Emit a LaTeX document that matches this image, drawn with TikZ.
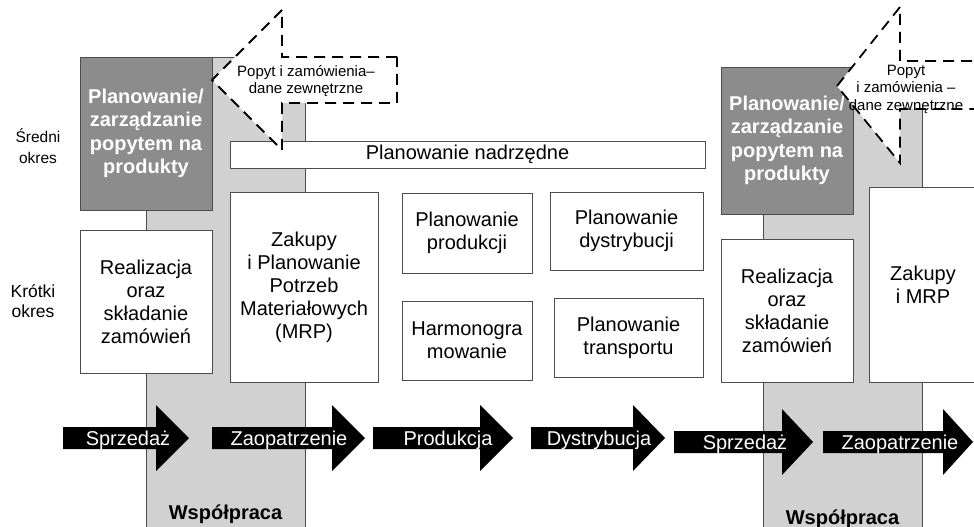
\documentclass[tikz,border=0pt]{standalone}
\usepackage{fontspec}
\setmainfont{Liberation Sans}
\definecolor{bandgray}{gray}{0.82}
\definecolor{boxgray}{gray}{0.55}
\definecolor{edgegray}{gray}{0.3}
\tikzset{
  box/.style={draw=edgegray, fill=white, line width=0.9pt, align=center, inner sep=0pt, font=\fontsize{20}{23}\selectfont},
  darkbox/.style={box, fill=boxgray, text=white, font=\bfseries\fontsize{20}{23.5}\selectfont},
  band/.style={draw=edgegray, fill=bandgray, line width=0.9pt},
  demand/.style={draw=black, fill=white, line width=1.8pt, dash pattern=on 11pt off 7pt},
  demandtext/.style={align=center, inner sep=0pt, font=\fontsize{15}{17.5}\selectfont},
  flowtext/.style={text=white, anchor=base, inner sep=0pt, font=\fontsize{20}{23}\selectfont},
  bandtext/.style={anchor=base, inner sep=0pt, font=\bfseries\fontsize{20}{23}\selectfont},
}
\begin{document}
\begin{tikzpicture}[x=1pt, y=-1pt]
    \useasboundingbox (0,0) rectangle (974,527);
    \clip (0,0) rectangle (974,527);
    \fill[white] (0,0) rectangle (974,527);

    % Collaboration bands
    \filldraw[band] (146,57) rectangle (305,540);
    \filldraw[band] (763,67) rectangle (922,540);

    % Time horizons
    \node[align=center, font=\fontsize{15.5}{21}\selectfont] (midterm) at (38,146) {Średni\\okres};
    \node[align=center, font=\fontsize{17.5}{20}\selectfont] (shortterm) at (33,301) {Krótki\\okres};

    % Left block
    \node[darkbox, minimum width=132pt, minimum height=153pt] (demandL) at (146,133.5) {Planowanie/\\zarządzanie\\popytem na\\produkty};
    \node[box, minimum width=132pt, minimum height=143pt] (ordersL) at (146,301.5) {Realizacja\\oraz\\składanie\\zamówień};
    \node[box, minimum width=148pt, minimum height=190pt] (mrpL) at (304,287) {Zakupy\\i Planowanie\\Potrzeb\\Materiałowych\\(MRP)};

    % Middle block
    \node[box, minimum width=475pt, minimum height=27pt] (master) at (467.5,154.5) {Planowanie nadrzędne};
    \node[box, minimum width=130pt, minimum height=80pt] (prodplan) at (467,233) {Planowanie\\produkcji};
    \node[box, minimum width=153pt, minimum height=78pt] (distplan) at (626.5,231) {Planowanie\\dystrybucji};
    \node[box, minimum width=130pt, minimum height=79pt] (schedule) at (467,340.5) {Harmonogra\\mowanie};
    \node[box, minimum width=149pt, minimum height=79pt] (transplan) at (628.5,337.5) {Planowanie\\transportu};

    % Right block
    \node[darkbox, minimum width=132pt, minimum height=147pt] (demandR) at (787,140.5) {Planowanie/\\zarządzanie\\popytem na\\produkty};
    \node[box, minimum width=132pt, minimum height=143pt] (ordersR) at (787,310.5) {Realizacja\\oraz\\składanie\\zamówień};
    \node[box, minimum width=108pt, minimum height=195pt] (mrpR) at (923,284.5) {Zakupy\\i MRP};

    % External demand
    \filldraw[demand] (397,57) -- (282,57) -- (282,10) -- (212,80) -- (282,150) -- (282,103) -- (397,103) -- cycle;
    \node[demandtext] (extL) at (306,81) {Popyt i zamówienia–\\dane zewnętrzne};
    \filldraw[demand] (990,61) -- (900,61) -- (900,7) -- (837,86) -- (900,163) -- (900,109) -- (990,109) -- cycle;
    \node[demandtext] (extR) at (906,89) {Popyt\\i zamówienia –\\dane zewnętrzne};

    % Process flow
    \foreach \a/\b/\c/\m/\t/\lab [count=\i] in {63/156/189/438/128/Sprzedaż, 212/332/365/438/289/Zaopatrzenie, 373/480/513/438/448/Produkcja, 531/633/665/438/599/Dystrybucja, 674/782/813/442/745/Sprzedaż, 823/943/973/442/900/Zaopatrzenie}
    {
      \fill (\a,\m-11) -- (\b,\m-11) -- (\b,\m-33) -- (\c,\m) -- (\b,\m+33) -- (\b,\m+11) -- (\a,\m+11) -- cycle;
      \node[flowtext] (flow\i) at (\t,\m+7) {\lab};
    }

    % Labels
    \node[bandtext] (coopL) at (225.5,519) {Współpraca};
    \node[bandtext] (coopR) at (842.5,524) {Współpraca};
\end{tikzpicture}
\end{document}
